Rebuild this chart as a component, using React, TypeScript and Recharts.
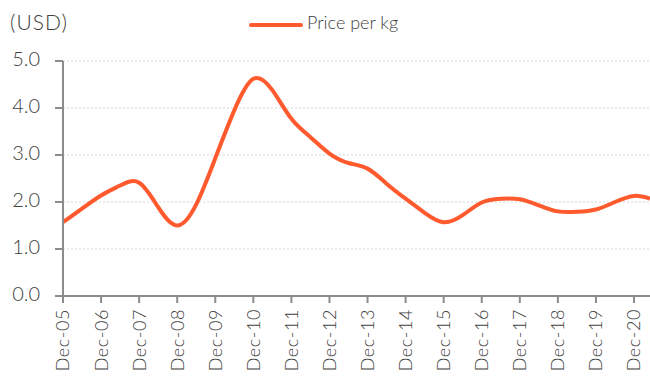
import React from 'react';
import { LineChart, Line, XAxis, YAxis, CartesianGrid, Legend } from 'recharts';

// years since Dec-05, read at half-year steps
const periods = [0, 0.5, 1, 1.5, 2, 2.5, 3, 3.5, 4, 4.5, 5, 5.5, 6, 6.5, 7, 7.5, 8, 8.5, 9, 9.5, 10, 10.5, 11, 11.5, 12, 12.5, 13, 13.5, 14, 14.5, 15, 15.42];
const prices = [1.57, 1.86, 2.14, 2.35, 2.41, 1.89, 1.5, 1.95, 2.93, 3.95, 4.62, 4.38, 3.77, 3.38, 3.03, 2.83, 2.71, 2.39, 2.07, 1.77, 1.57, 1.72, 1.99, 2.07, 2.06, 1.93, 1.8, 1.79, 1.84, 2.0, 2.13, 2.07];
const tickLabels = ['Dec-05', 'Dec-06', 'Dec-07', 'Dec-08', 'Dec-09', 'Dec-10', 'Dec-11', 'Dec-12', 'Dec-13', 'Dec-14', 'Dec-15', 'Dec-16', 'Dec-17', 'Dec-18', 'Dec-19', 'Dec-20'];
const yTicks = [0, 1, 2, 3, 4, 5];

const LINE = '#FF5A2E';
const AXIS = '#8c8c8c';
const TEXT = '#404040';
const FONT = 'Lato, sans-serif';

const data = periods.map((t, i) => ({ t, price: prices[i] }));

const XTick = ({ x, y, payload }: any) => (
    <g transform={`translate(${x},${y})`}>
        <text transform="rotate(-90)" x={0} y={0} dy="0.36em" textAnchor="end" letterSpacing={0.6}
            fill={TEXT} fontFamily={FONT} fontWeight={300} fontSize={18}>
            {tickLabels[payload.value]}
        </text>
    </g>
);

const TopLegend = () => (
    <div style={{ position: 'relative', width: 650, height: 50, fontFamily: FONT, fontWeight: 300, color: TEXT }}>
        <span style={{ position: 'absolute', left: 10, top: 9, fontSize: 21, letterSpacing: 1 }}>(USD)</span>
        <span style={{ position: 'absolute', left: 249, top: 23, width: 54, height: 4, borderRadius: 2, background: LINE }} />
        <span style={{ position: 'absolute', left: 307, top: 11, fontSize: 18 }}>Price per kg</span>
    </div>
);

export default function App() {
    return (
        <div style={{ width: 650, height: 378 }}>
            <style>{'body{margin:0}'}</style>
            <LineChart width={650} height={378} data={data} margin={{ top: 61, right: 0, bottom: 0, left: 0 }}>
                <CartesianGrid vertical={false} stroke="#d6d6d6" strokeDasharray="2 2" />
                <XAxis type="number" dataKey="t" domain={[0, 15.42]} ticks={tickLabels.map((_, i) => i)}
                    height={82} tickSize={7} tickMargin={6} tick={<XTick />} interval={0}
                    axisLine={{ stroke: AXIS, strokeWidth: 2 }} tickLine={{ stroke: AXIS, strokeWidth: 2 }} />
                <YAxis domain={[0, 5]} ticks={yTicks} width={63} tickSize={8} tickMargin={15}
                    tickFormatter={(v: number) => v.toFixed(1)}
                    tick={{ fill: TEXT, fontFamily: FONT, fontWeight: 300, fontSize: 20, dy: -2 }}
                    axisLine={{ stroke: AXIS, strokeWidth: 2 }} tickLine={{ stroke: AXIS, strokeWidth: 2 }} />
                <Legend verticalAlign="middle" align="center" content={<TopLegend />}
                    wrapperStyle={{ top: 0, left: 0, width: 650, height: 50 }} />
                <Line type="natural" dataKey="price" name="Price per kg" stroke={LINE} strokeWidth={4}
                    dot={false} activeDot={false} isAnimationActive={false} />
            </LineChart>
        </div>
    );
}
